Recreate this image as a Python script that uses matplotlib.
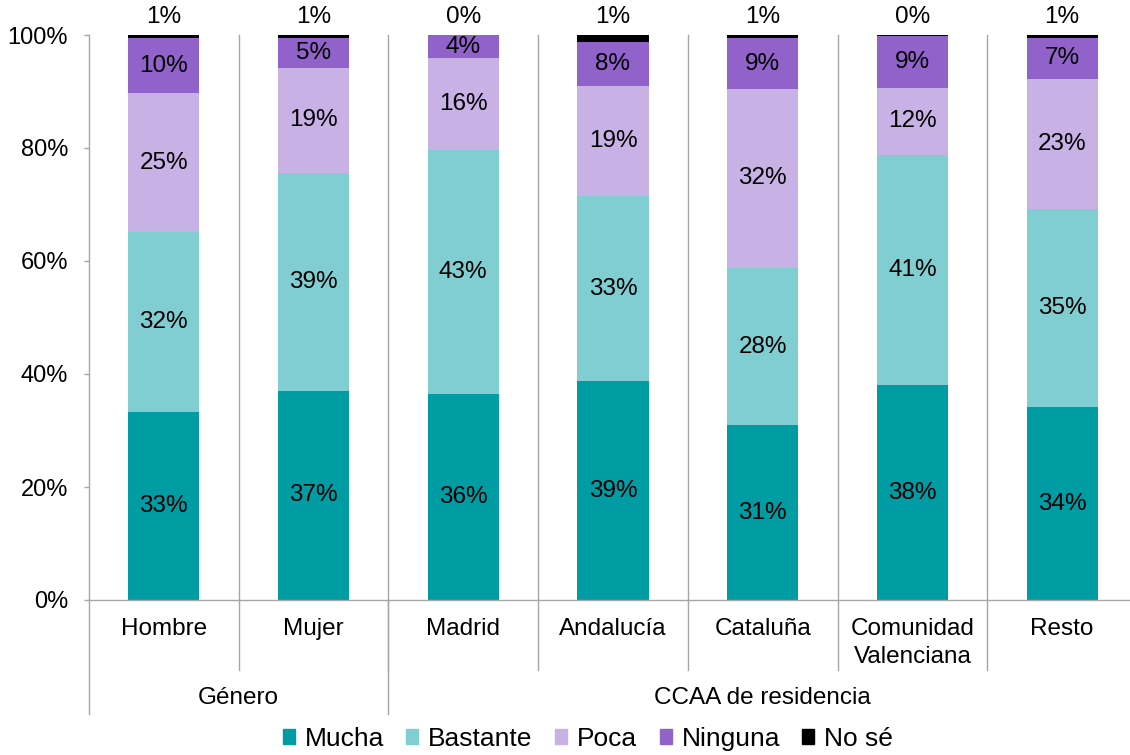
import numpy as np
import matplotlib.pyplot as plt
from matplotlib.patches import Patch

plt.rcParams['font.family'] = ['Liberation Sans', 'DejaVu Sans']

categories = ["Hombre", "Mujer", "Madrid", "Andalucía", "Cataluña",
              "Comunidad\nValenciana", "Resto"]
groups = ["Género", "CCAA de residencia"]
group_sizes = [2, 5]

series = ["Mucha", "Bastante", "Poca", "Ninguna", "No sé"]
mucha    = [33.2, 37.0, 36.4, 38.7, 30.9, 38.0, 34.1]
bastante = [31.9, 38.6, 43.3, 32.8, 27.9, 40.8, 35.1]
poca     = [24.6, 18.6, 16.2, 19.4, 31.7, 11.9, 23.1]
ninguna  = [9.7, 5.2, 4.1, 7.9, 8.9, 9.2, 7.1]
no_se    = [0.6, 0.6, 0.0, 1.2, 0.6, 0.1, 0.6]
colors = ["#009ca4", "#80ced2", "#c7b1e5", "#9062ca", "#000000"]

gray = "#a6a6a6"
fs = 17.5

fig = plt.figure(figsize=(11.3, 7.55), dpi=100)
ax = fig.add_axes([89/1130, 155/755, 1048/1130, 565/755])

x = np.arange(len(categories))
data = [mucha, bastante, poca, ninguna, no_se]
bottom = np.zeros(len(categories))
for name, vals, col in zip(series, data, colors):
    vals = np.array(vals) / 100
    ax.bar(x, vals, 0.475, bottom=bottom, color=col, label=name, linewidth=0)
    for i in range(len(x)):
        if name == "No sé":
            ax.annotate(f"{round(vals[i]*100):.0f}%", (x[i], bottom[i] + vals[i]),
                        xytext=(0, 13), textcoords="offset points",
                        ha="center", va="center", fontsize=fs)
        else:
            ax.text(x[i], bottom[i] + vals[i] / 2, f"{round(vals[i]*100):.0f}%",
                    ha="center", va="center", fontsize=fs)
    bottom += vals

ax.set_xlim(-0.5, len(categories) - 0.5)
ax.set_ylim(0, 1)
ax.set_yticks(np.arange(0, 1.01, 0.2))
ax.set_yticklabels([f"{int(v*100)}%" for v in np.arange(0, 1.01, 0.2)])
ax.tick_params(axis="y", length=3.6, width=1, color=gray, pad=11.5, labelsize=17)
ax.set_xticks([])
for s in ["top", "right"]:
    ax.spines[s].set_visible(False)
for s in ["left", "bottom"]:
    ax.spines[s].set_color(gray)
    ax.spines[s].set_linewidth(1)

# vertical separators inside plot and category axis
tr = ax.get_xaxis_transform()
px = 1 / 565  # one pixel in axes fraction
for b in np.arange(0.5, len(categories) - 0.5, 1):
    ax.plot([b, b], [1, -70 * px], transform=tr, color=gray, lw=1, clip_on=False)
for i, c in enumerate(categories):
    for j, line in enumerate(c.split("\n")):
        ax.text(x[i], -(29 + 28 * j) * px, line, transform=tr, ha="center",
                va="center", fontsize=fs)

# group separators and labels
edges = np.concatenate([[0], np.cumsum(group_sizes)]) - 0.5
for e in edges:
    ax.plot([e, e], [0, -114 * px], transform=tr, color=gray, lw=1, clip_on=False)
for g, a, b in zip(groups, edges[:-1], edges[1:]):
    ax.text((a + b) / 2, -98 * px, g, transform=tr, ha="center", va="center",
            fontsize=fs)

handles = [Patch(color=c, label=s) for s, c in zip(series, colors)]
fig.legend(handles=handles, loc="center", bbox_to_anchor=(588/1130, 16/755),
           ncol=5, frameon=False, fontsize=19, handlelength=0.45,
           handleheight=0.5, handletextpad=0.38, columnspacing=0.85,
           borderpad=0)

fig.savefig("out.png", dpi=100)
